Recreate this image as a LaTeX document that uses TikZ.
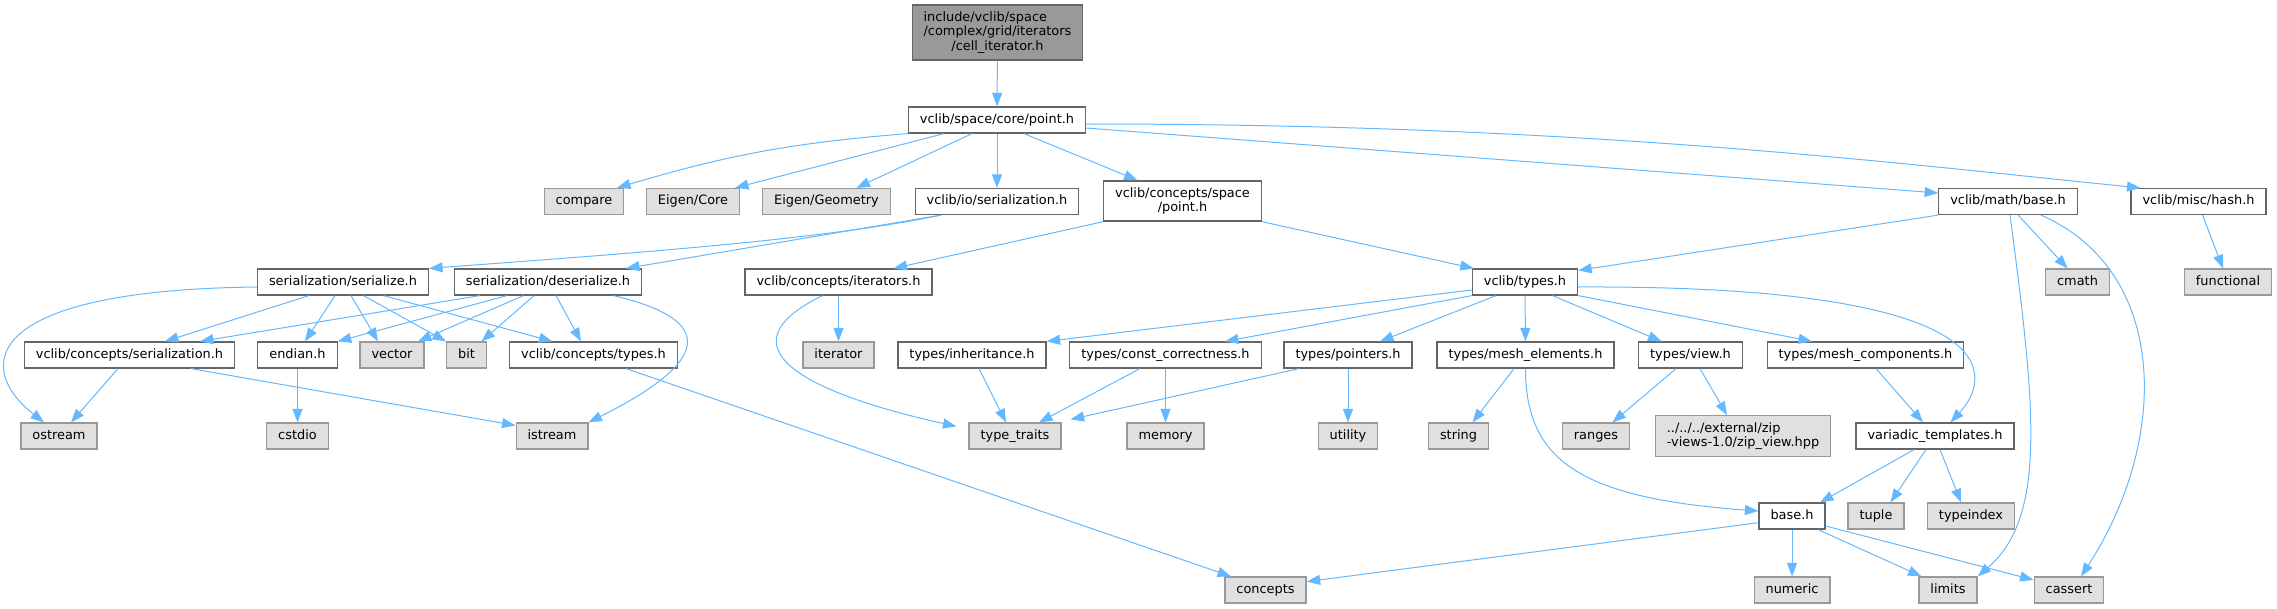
\documentclass[tikz,border=0pt]{standalone}
\usepackage{fontspec}
\setmainfont{DejaVu Sans}
\usetikzlibrary{arrows.meta}
\definecolor{edgeblue}{HTML}{63B8FF}

\begin{document}
\begin{tikzpicture}[
            x=1pt,
            y=-1pt,
            >={Triangle[length=13.5pt, width=10pt]},
            file/.style={
                rectangle,
                draw=black!60,
                fill=white,
                line width=1.2pt,
                font=\fontsize{12.9}{14.5}\selectfont,
                inner xsep=11.5pt,
                inner ysep=6.6pt,
                text height=9.8pt,
                text depth=3pt
            },
            ext/.style={file, draw=black!40, fill=black!12},
            root/.style={file, fill=black!40, align=center, text height=, text depth=},
            wide/.style={align=center, text height=, text depth=},
            dep/.style={->, draw=edgeblue, line width=1pt}
        ]

            \useasboundingbox (0, 0) rectangle (2277, 608);

            \node[root] (r1) at (997.5, 32.5) {\rlap{include/vclib/space}\phantom{/complex/grid/iterators}\\/complex/grid/iterators\\/cell\_iterator.h};
            \node[file] (p1) at (997, 120) {vclib/space/core/point.h};

            \node[ext] (a1) at (584, 201.5) {compare};
            \node[ext] (a2) at (693, 201.5) {Eigen/Core};
            \node[ext] (a3) at (826.5, 201.5) {Eigen/Geometry};
            \node[file] (a4) at (997, 201.5) {vclib/io/serialization.h};
            \node[file, wide] (a5) at (1182.5, 201) {vclib/concepts/space\\/point.h};
            \node[file] (a6) at (2008, 201.5) {vclib/math/base.h};
            \node[file] (a7) at (2198.5, 201.5) {vclib/misc/hash.h};

            \node[file] (b1) at (343, 282) {serialization/serialize.h};
            \node[file] (b2) at (548, 282) {serialization/deserialize.h};
            \node[file] (b3) at (838.5, 282) {vclib/concepts/iterators.h};
            \node[file] (b4) at (1525, 282) {vclib/types.h};
            \node[ext] (b5) at (2077.5, 282) {cmath};
            \node[ext] (b6) at (2228, 282) {functional};

            \node[file] (c1) at (129.5, 355) {vclib/concepts/serialization.h};
            \node[file] (c2) at (297.5, 355) {endian.h};
            \node[ext] (c3) at (392, 355) {vector};
            \node[ext] (c4) at (466.5, 355) {bit};
            \node[file] (c5) at (593.5, 355) {vclib/concepts/types.h};
            \node[ext] (c6) at (838.5, 355) {iterator};
            \node[file] (c7) at (972, 355) {types/inheritance.h};
            \node[file] (c8) at (1165.5, 355) {types/const\_correctness.h};
            \node[file] (c9) at (1348, 355) {types/pointers.h};
            \node[file] (c10) at (1525.5, 355) {types/mesh\_elements.h};
            \node[file] (c11) at (1690.5, 355) {types/view.h};
            \node[file] (c12) at (1865.5, 355) {types/mesh\_components.h};

            \node[ext] (d1) at (59, 436) {ostream};
            \node[ext] (d2) at (297.5, 436) {cstdio};
            \node[ext] (d3) at (552, 436) {istream};
            \node[ext] (d4) at (1015, 436) {type\_traits};
            \node[ext] (d5) at (1165.5, 436) {memory};
            \node[ext] (d6) at (1348, 436) {utility};
            \node[ext] (d7) at (1458.5, 436) {string};
            \node[ext] (d8) at (1596, 436) {ranges};
            \node[ext, wide] (d9) at (1743, 436) {\rlap{../../../external/zip}\phantom{-views-1.0/zip\_view.hpp}\\-views-1.0/zip\_view.hpp};
            \node[file] (d10) at (1935, 436) {variadic\_templates.h};

            \node[file] (e1) at (1792, 516) {base.h};
            \node[ext] (e2) at (1876, 516) {tuple};
            \node[ext] (e3) at (1971, 516) {typeindex};

            \node[ext] (f1) at (1265.5, 590) {concepts};
            \node[ext] (f2) at (1792, 590) {numeric};
            \node[ext] (f3) at (1948, 590) {limits};
            \node[ext] (f4) at (2069, 590) {cassert};

            \draw[dep] (r1) -- (p1);

            \draw[dep] (p1.south west) to[bend right=6] ([xshift=33pt]a1.north);
            \draw[dep] ([xshift=-53pt]p1.south) -- ([xshift=42pt]a2.north);
            \draw[dep] ([xshift=-25pt]p1.south) -- ([xshift=30pt]a3.north);
            \draw[dep] (p1) -- (a4);
            \draw[dep] ([xshift=27pt]p1.south) -- ([xshift=-45pt]a5.north);
            \draw[dep] ([yshift=-8pt]p1.east) -- ([yshift=8.5pt]a6.west);
            \draw[dep] ([yshift=-4pt]p1.east) .. controls +(500, 0) and +(-250, -25) .. ([xshift=-58pt]a7.north);

            \draw[dep] ([xshift=-56pt]a4.south) .. controls +(-120, 25) and +(200, -15) .. (b1.north east);
            \draw[dep] ([xshift=-56pt]a4.south) -- ([xshift=78pt]b2.north);
            \draw[dep] (a5.south west) -- ([xshift=55pt]b3.north);
            \draw[dep] (a5.south east) -- ([xshift=2pt]b4.north west);
            \draw[dep] (a6.south west) -- ([yshift=-2pt]b4.north east);
            \draw[dep] ([xshift=10pt]a6.south) -- ([xshift=-10pt]b5.north);
            \draw[dep] ([xshift=2pt]a6.south) .. controls +(25, 190) and +(70, -60) .. (f3.north east);
            \draw[dep] ([xshift=33pt]a6.south) .. controls +(128, 56) and +(89, -137) .. ([xshift=12pt]f4.north);
            \draw[dep] ([xshift=4pt]a7.south) -- ([xshift=-5pt]b6.north);

            \draw[dep] ([yshift=-5pt]b1.west) .. controls +(-276, 3) and +(-70, -55) .. ([xshift=-15pt]d1.north);
            \draw[dep] ([xshift=-34pt]b1.south) -- ([xshift=35.5pt]c1.north);
            \draw[dep] ([xshift=-8pt]b1.south) -- ([xshift=7.5pt]c2.north);
            \draw[dep] ([xshift=8pt]b1.south) -- ([xshift=-14pt]c3.north);
            \draw[dep] ([xshift=20.5pt]b1.south) -- (c4.north west);
            \draw[dep] ([xshift=40.5pt]b1.south) -- ([xshift=-41pt]c5.north);

            \draw[dep] ([xshift=-68pt]b2.south) -- ([xshift=70.5pt]c1.north);
            \draw[dep] ([xshift=-41pt]b2.south) -- (c2.north east);
            \draw[dep] ([xshift=-24.5pt]b2.south) -- ([xshift=26pt]c3.north);
            \draw[dep] ([xshift=-14pt]b2.south) -- ([xshift=15pt]c4.north);
            \draw[dep] ([xshift=8pt]b2.south) -- ([xshift=-12.5pt]c5.north);
            \draw[dep] ([xshift=65.5pt]b2.south) .. controls +(106, 25) and +(120, -60) .. (d3.north east);

            \draw[dep] (b3) -- (c6);
            \draw[dep] ([xshift=-16pt]b3.south) .. controls +(-102.6, 50) and +(-156, -34.5) .. ([xshift=-12pt, yshift=-4pt]d4.north west);

            \draw[dep] ([yshift=-8pt]b4.west) -- (c7.north east);
            \draw[dep] (b4.south west) -- ([xshift=59.5pt]c8.north);
            \draw[dep] ([xshift=-29pt]b4.south) -- ([xshift=32pt]c9.north);
            \draw[dep] (b4) -- (c10);
            \draw[dep] ([xshift=27.5pt]b4.south) -- ([xshift=-29pt]c11.north);
            \draw[dep] (b4.south east) -- ([xshift=-53.5pt]c12.north);
            \draw[dep] ([yshift=-5pt]b4.east) .. controls +(440, -2) and +(40, -43) .. ([xshift=15.5pt]d10.north);

            \draw[dep] ([xshift=-11.5pt]c1.south) -- ([xshift=12pt]d1.north);
            \draw[dep] ([xshift=61.5pt]c1.south) -- ([yshift=-3pt]d3.north west);
            \draw[dep] (c2) -- (d2);
            \draw[dep] ([xshift=32.5pt]c5.south) -- ([xshift=-34.5pt]f1.north);
            \draw[dep] ([xshift=7pt]c7.south) -- ([xshift=-9pt]d4.north);
            \draw[dep] ([xshift=-25.5pt]c8.south) -- ([xshift=24pt]d4.north);
            \draw[dep] (c8) -- (d5);
            \draw[dep] ([xshift=-49pt]c9.south) -- ([xshift=9pt, yshift=3pt]d4.north east);
            \draw[dep] (c9) -- (d6);
            \draw[dep] ([xshift=-11.5pt]c10.south) -- ([xshift=14pt]d7.north);
            \draw[dep] (c10.south) .. controls +(0, 92) and +(-178, -13) .. ([yshift=5pt]e1.west);
            \draw[dep] ([xshift=-14.5pt]c11.south) -- ([xshift=16.5pt]d8.north);
            \draw[dep] ([xshift=9.5pt]c11.south) -- ([xshift=-16pt]d9.north);
            \draw[dep] ([xshift=10.5pt]c12.south) -- ([xshift=-12pt]d10.north);

            \draw[dep] ([xshift=-21pt]d10.south) -- ([xshift=28pt]e1.north);
            \draw[dep] ([xshift=-9pt]d10.south) -- ([xshift=14.5pt]e2.north);
            \draw[dep] ([xshift=5pt]d10.south) -- ([xshift=-10pt]e3.north);

            \draw[dep] ([yshift=-6.7pt]e1.west) -- ([yshift=8.4pt]f1.east);
            \draw[dep] (e1) -- (f2);
            \draw[dep] ([xshift=26pt]e1.south) -- ([xshift=-26.5pt]f3.north);
            \draw[dep] ([yshift=-10pt]e1.east) -- ([yshift=-3.5pt]f4.north west);

        \end{tikzpicture}
\end{document}
